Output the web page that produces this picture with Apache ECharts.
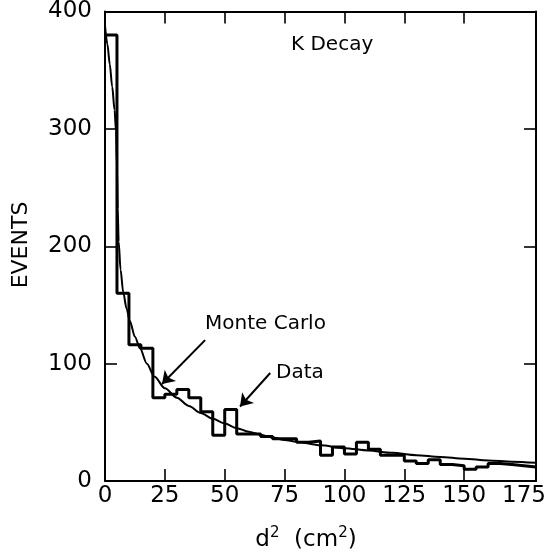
<!DOCTYPE html>
<html>
<head>
<meta charset="utf-8">
<script src="https://cdn.jsdelivr.net/npm/echarts@6/dist/echarts.min.js"></script>
<style>
  html, body { margin: 0; padding: 0; background: #fff; }
  #chart { width: 558px; height: 556px; }
</style>
</head>
<body>
<div id="chart"></div>
<script>
// Histogram bins (lower edge, cm^2) and counted events per bin
const binStart = [0, 5, 10, 15, 20, 25, 30, 35, 40, 45, 50, 55, 60, 65, 70, 75, 80, 85,
                  90, 95, 100, 105, 110, 115, 120, 125, 130, 135, 140, 145, 150, 155, 160, 165, 170, 175];
const binEnd = 180;
const dataCounts = [380, 160, 116, 113, 71, 74, 78, 71, 59, 39, 61, 40, 40, 38, 36, 36, 33, 34,
                    22, 29, 23, 33, 27, 22, 22, 17, 15, 18, 14, 13, 10, 12, 15, 14, 13, 12];

// Monte Carlo expectation sampled along d^2
const mcX = [0, 1, 2, 3, 4, 4.6, 5, 5.3, 5.7, 6.5, 7.6, 9, 10.4, 12.5, 14.6, 17.5, 20.6, 25, 30, 35,
             40, 45, 50, 55, 60, 65, 70, 75, 80, 90, 100, 110, 120, 130, 140, 150, 160, 170, 180];
const mcY = [388, 372, 355, 336, 316, 298, 268, 232, 204, 180, 161, 147, 136, 123, 113, 100, 89, 79, 71, 64,
             58, 53, 49, 45, 42, 39.5, 37, 35, 33.5, 30.5, 28, 26, 24, 22, 20.5, 19, 17.5, 16.5, 15.5];

// Axis ticks and labels
const xLabels = [0, 25, 50, 75, 100, 125, 150, 175];
const xTicks = [25, 50, 75, 100, 125, 150];
const yLabels = [0, 100, 200, 300, 400];
const yTicks = [100, 200, 300];

// Annotation arrows: [from, to] in data coordinates
const mcArrow = [[41.8, 120], [23.8, 82.7]];
const dataArrow = [[69, 92], [56.4, 63.5]];

const FONT = 'DejaVu Sans';
const chart = echarts.init(document.getElementById('chart'), null, { renderer: 'canvas' });

const histPoints = binStart.map((x, i) => [x, dataCounts[i]]);
histPoints.push([binEnd, dataCounts[dataCounts.length - 1]]);
const mcPoints = mcX.map((x, i) => [x, mcY[i]]);

const axisLine = { show: true, onZero: false, lineStyle: { color: '#000', width: 2 } };

function xAxisDef(pos, withLabels) {
  return {
    type: 'value', position: pos, min: 0, max: 180, interval: 25,
    axisLine: axisLine,
    splitLine: { show: false },
    axisTick: { show: true, inside: true, length: 12, customValues: xTicks,
                lineStyle: { color: '#000', width: 1.6 } },
    axisLabel: withLabels
      ? { show: true, customValues: xLabels, margin: 4, color: '#000',
          fontFamily: FONT, fontSize: 23 }
      : { show: false }
  };
}
function yAxisDef(pos, withLabels) {
  return {
    type: 'value', position: pos, min: 0, max: 400, interval: 100,
    axisLine: axisLine,
    splitLine: { show: false },
    axisTick: { show: true, inside: true, length: 12, customValues: yTicks,
                lineStyle: { color: '#000', width: 1.6 } },
    axisLabel: withLabels
      ? { show: true, customValues: yLabels, margin: 13, color: '#000',
          fontFamily: FONT, fontSize: 23 }
      : { show: false }
  };
}

const arrowLine = (pair) => [{ coord: pair[0] }, { coord: pair[1] }];

chart.setOption({
  animation: false,
  backgroundColor: '#fff',
  grid: { left: 105, right: 22, top: 10, bottom: 75, containLabel: false },
  xAxis: [xAxisDef('bottom', true), xAxisDef('top', false)],
  yAxis: [yAxisDef('left', true), yAxisDef('right', false)],
  series: [
    {
      name: 'Data', type: 'line', xAxisIndex: 0, yAxisIndex: 0,
      step: 'end', showSymbol: false, symbol: 'none',
      data: histPoints,
      lineStyle: { color: '#000', width: 3 }
    },
    {
      name: 'Monte Carlo', type: 'line', xAxisIndex: 0, yAxisIndex: 0,
      smooth: 0.3, smoothMonotone: 'x', showSymbol: false, symbol: 'none',
      data: mcPoints,
      lineStyle: { color: '#000', width: 2 },
      markLine: {
        silent: true,
        symbol: ['none', 'arrow'],
        symbolSize: 12,
        label: { show: false },
        lineStyle: { color: '#000', width: 2, type: 'solid' },
        itemStyle: { color: '#000' },
        data: [arrowLine(mcArrow), arrowLine(dataArrow)]
      }
    }
  ],
  graphic: [
    { type: 'text', left: 291, top: 35,
      style: { text: 'K Decay', fontFamily: FONT, fontSize: 20, fill: '#000' } },
    { type: 'text', left: 205, top: 314,
      style: { text: 'Monte Carlo', fontFamily: FONT, fontSize: 20, fill: '#000' } },
    { type: 'text', left: 276, top: 363,
      style: { text: 'Data', fontFamily: FONT, fontSize: 20, fill: '#000' } },
    { type: 'text', x: 21, y: 245, rotation: Math.PI / 2,
      style: { text: 'EVENTS', fontFamily: FONT, fontSize: 22, fill: '#000',
               align: 'center', verticalAlign: 'middle' } },
    { type: 'text', x: 306, y: 540,
      style: {
        text: '{b|d}{s|2}{b|  (cm}{s|2}{b|)}',
        align: 'center', verticalAlign: 'middle',
        rich: {
          b: { fontFamily: FONT, fontSize: 23, fill: '#000', color: '#000' },
          s: { fontFamily: FONT, fontSize: 15, fill: '#000', color: '#000', verticalAlign: 'top', padding: [0, 0, 14, 0] }
        }
      } }
  ]
});
</script>
</body>
</html>
